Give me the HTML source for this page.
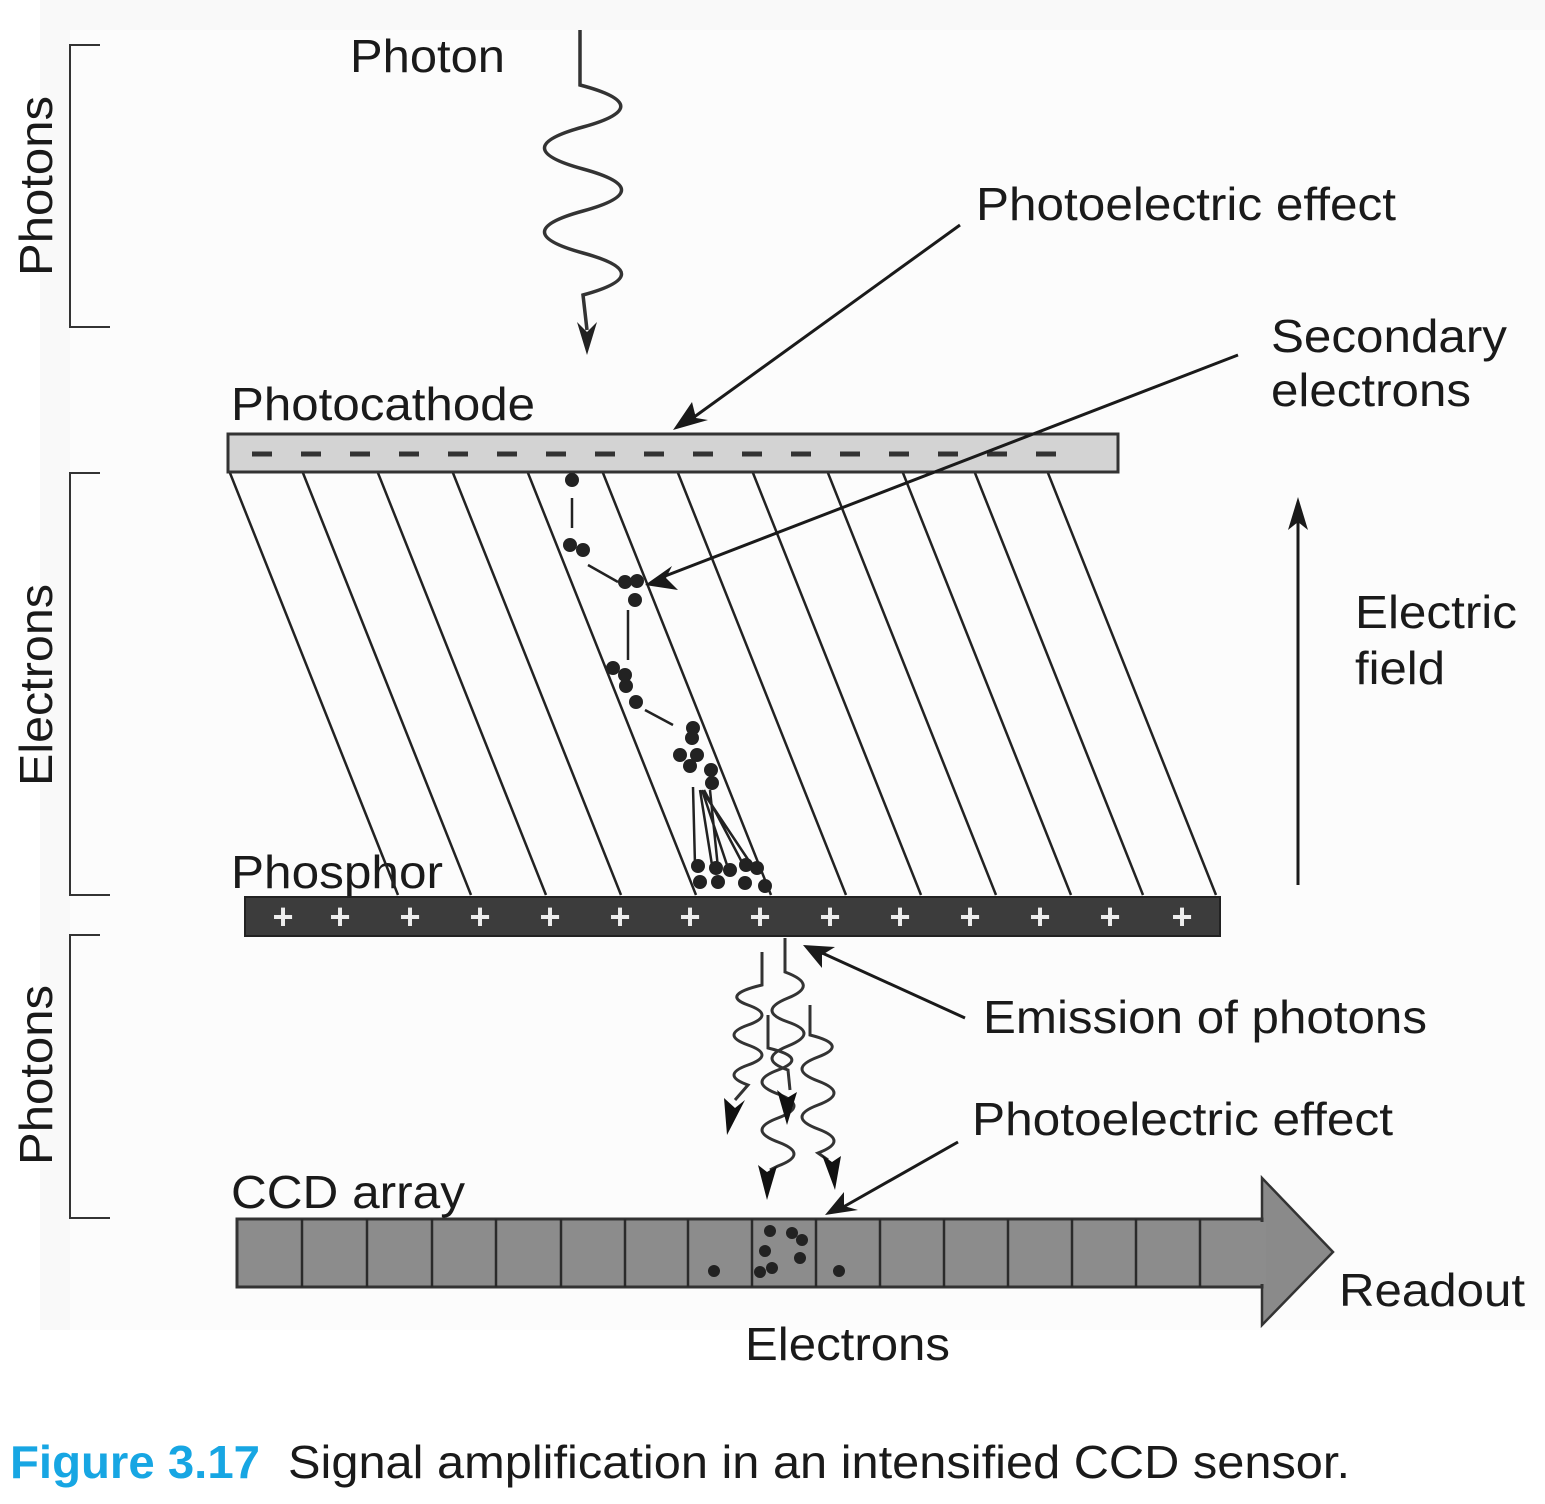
<!DOCTYPE html>
<html><head><meta charset="utf-8"><style>
html,body{margin:0;padding:0;background:#fff;}
svg{display:block;}
text{font-family:"Liberation Sans",sans-serif;fill:#1a1a1a;}
</style></head><body>
<svg width="1545" height="1504" viewBox="0 0 1545 1504" xmlns="http://www.w3.org/2000/svg">
<rect x="40" y="0" width="1505" height="1330" fill="#f9f9f9"/>
<rect x="70" y="30" width="1475" height="1300" fill="#fcfcfc"/>
<g stroke="#333" stroke-width="2" fill="none">
<path d="M100,45 H70 V327 H110"/>
<path d="M100,473 H70 V895 H110"/>
<path d="M100,935 H70 V1218 H110"/>
</g>
<text x="52" y="186" font-size="46" transform="rotate(-90 52 186)" text-anchor="middle" textLength="180" lengthAdjust="spacingAndGlyphs">Photons</text>
<text x="52" y="685" font-size="46" transform="rotate(-90 52 685)" text-anchor="middle" textLength="202" lengthAdjust="spacingAndGlyphs">Electrons</text>
<text x="52" y="1075" font-size="46" transform="rotate(-90 52 1075)" text-anchor="middle" textLength="180" lengthAdjust="spacingAndGlyphs">Photons</text>

<text x="350" y="72" font-size="46" textLength="155" lengthAdjust="spacingAndGlyphs">Photon</text>
<text x="976" y="220" font-size="46" textLength="420" lengthAdjust="spacingAndGlyphs">Photoelectric effect</text>
<text x="1271" y="352" font-size="46" textLength="236" lengthAdjust="spacingAndGlyphs">Secondary</text>
<text x="1271" y="406" font-size="46" textLength="200" lengthAdjust="spacingAndGlyphs">electrons</text>
<text x="231" y="420" font-size="46" textLength="304" lengthAdjust="spacingAndGlyphs">Photocathode</text>
<text x="1355" y="628" font-size="46" textLength="162" lengthAdjust="spacingAndGlyphs">Electric</text>
<text x="1355" y="684" font-size="46" textLength="90" lengthAdjust="spacingAndGlyphs">field</text>
<text x="231" y="888" font-size="46" textLength="212" lengthAdjust="spacingAndGlyphs">Phosphor</text>
<text x="983" y="1033" font-size="46" textLength="444" lengthAdjust="spacingAndGlyphs">Emission of photons</text>
<text x="972" y="1135" font-size="46" textLength="421" lengthAdjust="spacingAndGlyphs">Photoelectric effect</text>
<text x="231" y="1208" font-size="46" textLength="234" lengthAdjust="spacingAndGlyphs">CCD array</text>
<text x="1339" y="1306" font-size="46" textLength="186" lengthAdjust="spacingAndGlyphs">Readout</text>
<text x="745" y="1360" font-size="46" textLength="205" lengthAdjust="spacingAndGlyphs">Electrons</text>
<text x="10" y="1478" font-size="46" font-weight="bold" style="fill:#17a6e3" textLength="250" lengthAdjust="spacingAndGlyphs">Figure 3.17</text>
<text x="288" y="1478" font-size="46" textLength="1062" lengthAdjust="spacingAndGlyphs">Signal amplification in an intensified CCD sensor.</text>

<g stroke="#333" stroke-width="3.5" fill="none">
<path d="M580,30 V85 Q660,106 583,127 T583,169 T583,211 T583,253 T583,295 L587,330"/>
</g>
<polygon points="587,355 577,322 587,332 597,322" fill="#222"/>

<g stroke="#222" stroke-width="2.5">
<line x1="230" y1="473" x2="398" y2="895"/>
<line x1="303" y1="473" x2="471" y2="895"/>
<line x1="378" y1="473" x2="546" y2="895"/>
<line x1="453" y1="473" x2="621" y2="895"/>
<line x1="528" y1="473" x2="696" y2="895"/>
<line x1="603" y1="473" x2="771" y2="895"/>
<line x1="678" y1="473" x2="846" y2="895"/>
<line x1="753" y1="473" x2="921" y2="895"/>
<line x1="828" y1="473" x2="996" y2="895"/>
<line x1="903" y1="473" x2="1071" y2="895"/>
<line x1="975" y1="473" x2="1143" y2="895"/>
<line x1="1048" y1="473" x2="1216" y2="895"/>
</g>

<rect x="228" y="434" width="890" height="38" fill="#d3d3d3" stroke="#333" stroke-width="3"/>
<g stroke="#333" stroke-width="5">
<path d="M252,454h20M301,454h20M350,454h20M399,454h20M448,454h20M497,454h20M546,454h20M595,454h20M644,454h20M693,454h20M742,454h20M791,454h20M840,454h20M889,454h20M938,454h20M987,454h20M1036,454h20"/>
</g>

<rect x="245" y="897" width="975" height="39" fill="#3c3c3c" stroke="#222" stroke-width="2"/>
<g font-size="36" font-weight="bold" text-anchor="middle">
<text x="283" y="929" style="fill:#eee">+</text><text x="340" y="929" style="fill:#eee">+</text><text x="410" y="929" style="fill:#eee">+</text><text x="480" y="929" style="fill:#eee">+</text><text x="550" y="929" style="fill:#eee">+</text><text x="620" y="929" style="fill:#eee">+</text><text x="690" y="929" style="fill:#eee">+</text><text x="760" y="929" style="fill:#eee">+</text><text x="830" y="929" style="fill:#eee">+</text><text x="900" y="929" style="fill:#eee">+</text><text x="970" y="929" style="fill:#eee">+</text><text x="1040" y="929" style="fill:#eee">+</text><text x="1110" y="929" style="fill:#eee">+</text><text x="1182" y="929" style="fill:#eee">+</text>
</g>

<g stroke="#222" stroke-width="2.5" fill="none">
<line x1="572" y1="498" x2="572" y2="528"/>
<line x1="588" y1="565" x2="618" y2="582"/>
<line x1="628" y1="610" x2="628" y2="660"/>
<line x1="645" y1="710" x2="673" y2="725"/>
<path d="M693,787 L695,865 M700,790 L712,865 M702,790 L728,868 M704,790 L745,868 M703,792 L755,870 M710,790 L718,868"/>
</g>
<g fill="#222">
<circle cx="572" cy="480" r="7"/>
<circle cx="570" cy="545" r="7"/><circle cx="583" cy="550" r="7"/>
<circle cx="625" cy="582" r="7"/><circle cx="637" cy="581" r="7"/><circle cx="635" cy="600" r="7"/>
<circle cx="613" cy="668" r="7"/><circle cx="625" cy="675" r="7"/><circle cx="626" cy="686" r="7"/>
<circle cx="636" cy="702" r="7"/>
<circle cx="693" cy="728" r="7"/><circle cx="692" cy="738" r="7"/>
<circle cx="680" cy="755" r="7"/><circle cx="697" cy="755" r="7"/><circle cx="690" cy="766" r="7"/>
<circle cx="711" cy="770" r="7"/><circle cx="712" cy="783" r="7"/>
<circle cx="698" cy="866" r="7"/><circle cx="716" cy="868" r="7"/><circle cx="730" cy="870" r="7"/>
<circle cx="746" cy="865" r="7"/><circle cx="757" cy="868" r="7"/>
<circle cx="700" cy="882" r="7"/><circle cx="718" cy="882" r="7"/><circle cx="745" cy="883" r="7"/><circle cx="765" cy="886" r="7"/>
</g>

<g stroke="#333" stroke-width="3" fill="none">
<path d="M762,952 V985 Q720,995 748,1005 T748,1025 T748,1045 T748,1065 T748,1085 L735,1100"/>
<path d="M785,938 V972 Q820,985 788,998 T788,1022 T788,1046 T788,1070 L790,1090"/>
<path d="M768,1015 V1048 Q810,1058 778,1070 T778,1094 T778,1118 T778,1142 T778,1166 L770,1170"/>
<path d="M810,1005 V1035 Q850,1045 818,1057 T818,1081 T818,1105 T818,1129 T818,1153 L828,1160"/>
</g>
<g fill="#111">
<polygon points="727,1135 724,1098 735,1108 745,1100"/>
<polygon points="787,1125 777,1090 787,1098 797,1092"/>
<polygon points="767,1200 758,1165 767,1172 777,1166"/>
<polygon points="835,1190 822,1155 832,1162 841,1156"/>
</g>

<g stroke="#1a1a1a" stroke-width="3" fill="none">
<line x1="960" y1="225" x2="690" y2="420"/>
<line x1="1238" y1="355" x2="660" y2="578"/>
<line x1="965" y1="1018" x2="820" y2="952"/>
<line x1="958" y1="1142" x2="838" y2="1210"/>
<line x1="1298" y1="885" x2="1298" y2="520"/>
</g>
<g fill="#1a1a1a">
<polygon points="673,430 692,402 696,418 708,420"/>
<polygon points="645,585 672,566 666,578 678,590"/>
<polygon points="803,945 835,947 822,955 822,968"/>
<polygon points="825,1215 844,1192 844,1206 858,1210"/>
<polygon points="1298,497 1288,530 1298,522 1308,530"/>
</g>

<polygon points="1262,1178 1333,1252 1262,1325" fill="#8a8a8a" stroke="#333" stroke-width="2.5"/>
<rect x="237" y="1219" width="1025" height="68" fill="#8c8c8c" stroke="#333" stroke-width="3"/>
<rect x="1258" y="1222" width="8" height="62" fill="#8c8c8c"/>
<g stroke="#2a2a2a" stroke-width="2.5">
<path d="M302,1219V1287M367,1219V1287M432,1219V1287M496,1219V1287M561,1219V1287M625,1219V1287M688,1219V1287M752,1219V1287M816,1219V1287M880,1219V1287M944,1219V1287M1008,1219V1287M1072,1219V1287M1136,1219V1287M1200,1219V1287"/>
</g>
<g fill="#222">
<circle cx="714" cy="1271" r="6"/><circle cx="770" cy="1231" r="6"/><circle cx="765" cy="1251" r="6"/>
<circle cx="760" cy="1272" r="6"/><circle cx="772" cy="1268" r="6"/><circle cx="792" cy="1233" r="6"/>
<circle cx="802" cy="1240" r="6"/><circle cx="800" cy="1258" r="6"/><circle cx="839" cy="1271" r="6"/>
</g>
</svg>
</body></html>
